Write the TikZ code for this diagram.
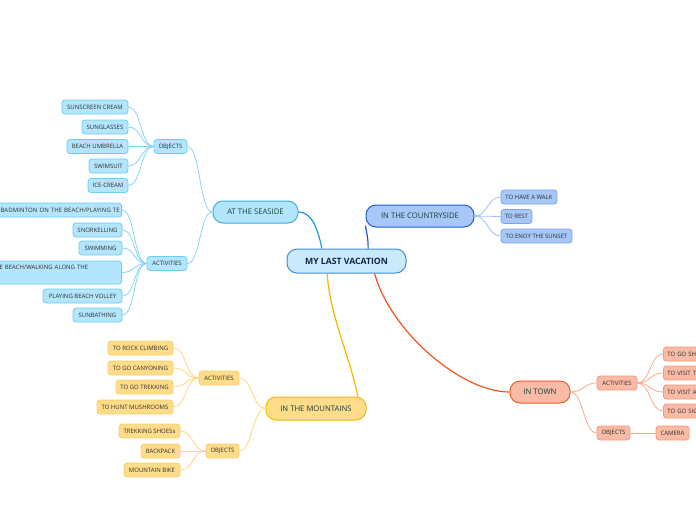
\documentclass[tikz,border=0pt]{standalone}
\usepackage{fontspec}
\setmainfont{Open Sans}
\definecolor{seaF}{HTML}{B3E5FC}
\definecolor{seaB}{HTML}{6CCDF6}
\definecolor{seaMB}{HTML}{3AAEEA}
\definecolor{seaL}{HTML}{86D3F8}
\definecolor{seaMain}{HTML}{1E96E6}
\definecolor{ctyF}{HTML}{A6C7F8}
\definecolor{ctyB}{HTML}{79A6EE}
\definecolor{ctyMB}{HTML}{1F5FD0}
\definecolor{ctyL}{HTML}{9EBFF5}
\definecolor{ctyMain}{HTML}{1E55C8}
\definecolor{mtnF}{HTML}{FEDC8A}
\definecolor{mtnB}{HTML}{FCCF6A}
\definecolor{mtnMB}{HTML}{F5B800}
\definecolor{mtnL}{HTML}{FDD77E}
\definecolor{mtnMain}{HTML}{F7B500}
\definecolor{twnF}{HTML}{F9BBA6}
\definecolor{twnB}{HTML}{F5997A}
\definecolor{twnMB}{HTML}{F2582A}
\definecolor{twnL}{HTML}{F9A98E}
\definecolor{twnMain}{HTML}{F4511E}
\definecolor{cenF}{HTML}{C8EAFB}
\definecolor{cenB}{HTML}{3F8FD6}
\definecolor{smallTxt}{HTML}{2E2E2E}
\definecolor{mainTxt}{HTML}{173F35}
\definecolor{cenTxt}{HTML}{10264A}
\begin{document}
\begin{tikzpicture}[x=1pt,y=-1pt,
  small/.style={rectangle, rounded corners=3pt, draw, line width=0.8pt, inner sep=0pt,
    minimum height=14pt, font=\fontsize{6}{7.5}\selectfont, text=smallTxt},
  mainb/.style={rectangle, rounded corners=10pt, draw, line width=1pt, inner sep=0pt,
    minimum height=22pt, font=\fontsize{7.7}{9}\selectfont, text=mainTxt},
  seas/.style={small, fill=seaF, draw=seaB},
  ctys/.style={small, fill=ctyF, draw=ctyB},
  mtns/.style={small, fill=mtnF, draw=mtnB},
  twns/.style={small, fill=twnF, draw=twnB},
  seal/.style={draw=seaL, line width=0.8pt},
  ctyl/.style={draw=ctyL, line width=0.8pt},
  mtnl/.style={draw=mtnL, line width=0.8pt},
  twnl/.style={draw=twnL, line width=0.8pt},
  mainl/.style={line width=1.2pt}
]
\useasboundingbox (0,0) rectangle (696,520);
\clip (0,0) rectangle (696,520);

% ---------- center ----------
\node[rectangle, rounded corners=10pt, draw=cenB, fill=cenF, line width=1pt, inner sep=0pt,
  minimum width=119pt, minimum height=24pt, text=cenTxt,
  font=\bfseries\fontsize{8.7}{10}\selectfont] (cen) at (346.5,261) {MY LAST VACATION};

% ---------- main branches ----------
\node[mainb, fill=seaF, draw=seaMB, minimum width=85pt] (ss) at (255.5,212) {AT THE SEASIDE};
\node[mainb, fill=ctyF, draw=ctyMB, minimum width=108pt] (cs) at (420,216) {IN THE COUNTRYSIDE};
\node[mainb, fill=mtnF, draw=mtnMB, minimum width=100pt, minimum height=23pt] (mt) at (316,408.5) {IN THE MOUNTAINS};
\node[mainb, fill=twnF, draw=twnMB, minimum width=60pt] (tw) at (540,392) {IN TOWN};

% ---------- seaside ----------
\node[seas, minimum width=33pt] (sobj) at (170.5,146.5) {OBJECTS};
\node[seas, minimum width=66pt] (s1) at (95,107) {SUNSCREEN CREAM};
\node[seas, minimum width=46pt] (s2) at (105,127) {SUNGLASSES};
\node[seas, minimum width=61pt] (s3) at (97.5,146.5) {BEACH UMBRELLA};
\node[seas, minimum width=39pt] (s4) at (108.5,166) {SWIMSUIT};
\node[seas, minimum width=40pt] (s5) at (108,185.5) {ICE-CREAM};

\node[seas, minimum width=40pt] (sact) at (167,263.5) {ACTIVITIES};
\node[seas, anchor=east, text width=117pt, inner xsep=4pt, align=left] (a1) at (122,210) {\mbox{\addfontfeature{LetterSpace=2}BADMINTON ON THE BEACH/PLAYING TE}};
\node[seas, minimum width=49pt] (a2) at (97.5,230) {SNORKELLING};
\node[seas, minimum width=43pt] (a3) at (100.5,248) {SWIMMING};
\node[seas, anchor=east, text width=118pt, inner xsep=4pt, minimum height=23pt, align=left] (a4) at (122,272.5) {E BEACH/WALKING ALONG THE\\\strut};
\node[seas, minimum width=79pt] (a5) at (82.5,296) {PLAYING BEACH VOLLEY};
\node[seas, minimum width=49pt] (a6) at (97.5,315) {SUNBATHING};

% ---------- countryside ----------
\node[ctys, minimum width=56pt] (c1) at (529,197) {TO HAVE A WALK};
\node[ctys, minimum width=31pt] (c2) at (516.5,216.5) {TO REST};
\node[ctys, minimum width=71pt] (c3) at (536.5,236) {TO ENOY THE SUNSET};

% ---------- mountains ----------
\node[mtns, minimum width=40pt] (mact) at (219,378) {ACTIVITIES};
\node[mtns, minimum width=33pt] (mobj) at (222.5,451) {OBJECTS};
\node[mtns, minimum width=65pt] (m1) at (140.5,348) {TO ROCK CLIMBING};
\node[mtns, minimum width=65pt] (m2) at (140.5,368) {TO GO CANYONING};
\node[mtns, minimum width=57pt] (m3) at (144.5,387) {TO GO TREKKING};
\node[mtns, minimum width=76pt] (m4) at (135,407) {TO HUNT MUSHROOMS};
\node[mtns, minimum width=61pt] (m5) at (149.5,431) {TREKKING SHOESs};
\node[mtns, minimum width=39pt] (m6) at (160.5,451) {BACKPACK};
\node[mtns, minimum width=56pt] (m7) at (152,470) {MOUNTAIN BIKE};

% ---------- town ----------
\node[twns, minimum width=40pt] (tact) at (617,383) {ACTIVITIES};
\node[twns, minimum width=33pt] (tobj) at (613.5,433) {OBJECTS};
\node[twns, minimum width=33pt] (tcam) at (672.5,433) {CAMERA};
\node[twns, anchor=west, text width=52pt, inner xsep=4pt, align=left] (t1) at (663,354) {TO GO SH};
\node[twns, anchor=west, text width=52pt, inner xsep=4pt, align=left] (t2) at (663,373) {TO VISIT T};
\node[twns, anchor=west, text width=52pt, inner xsep=4pt, align=left] (t3) at (663,392) {TO VISIT A};
\node[twns, anchor=west, text width=52pt, inner xsep=4pt, align=left] (t4) at (663,411) {TO GO SIG};

% ---------- main connectors ----------
\draw[mainl, seaMain] (ss.east) .. controls +(14,0) and +(-4,-18) .. (cen.153);
\draw[mainl, ctyMain] (cen.30) .. controls +(0,-12) and +(1,8) .. (cs.190);
\draw[mainl, mtnMain] (cen.213) .. controls +(2,40) and +(-8,-40) .. (mt.16);
\draw[mainl, twnMain] (cen.-24) .. controls (390,330) and (460,392) .. (tw.west);

% ---------- sub connectors ----------
\foreach \c in {sobj,sact} \draw[seal] (ss.west) .. controls +(-13,0) and +(13,0) .. (\c.east);
\foreach \c in {s1,s2,s3,s4,s5} \draw[seal] (sobj.west) .. controls +(-13,0) and +(13,0) .. (\c.east);
\foreach \c in {a1,a2,a3,a4,a5,a6} \draw[seal] (sact.west) .. controls +(-13,0) and +(13,0) .. (\c.east);
\foreach \c in {c1,c2,c3} \draw[ctyl] (cs.east) .. controls +(13,0) and +(-13,0) .. (\c.west);
\foreach \c in {mact,mobj} \draw[mtnl] (mt.west) .. controls +(-13,0) and +(13,0) .. (\c.east);
\foreach \c in {m1,m2,m3,m4} \draw[mtnl] (mact.west) .. controls +(-13,0) and +(13,0) .. (\c.east);
\foreach \c in {m5,m6,m7} \draw[mtnl] (mobj.west) .. controls +(-13,0) and +(13,0) .. (\c.east);
\foreach \c in {tact,tobj} \draw[twnl] (tw.east) .. controls +(13,0) and +(-13,0) .. (\c.west);
\foreach \c in {t1,t2,t3,t4} \draw[twnl] (tact.east) .. controls +(13,0) and +(-13,0) .. (\c.west);
\draw[twnl] (tobj.east) -- (tcam.west);
\end{tikzpicture}
\end{document}
